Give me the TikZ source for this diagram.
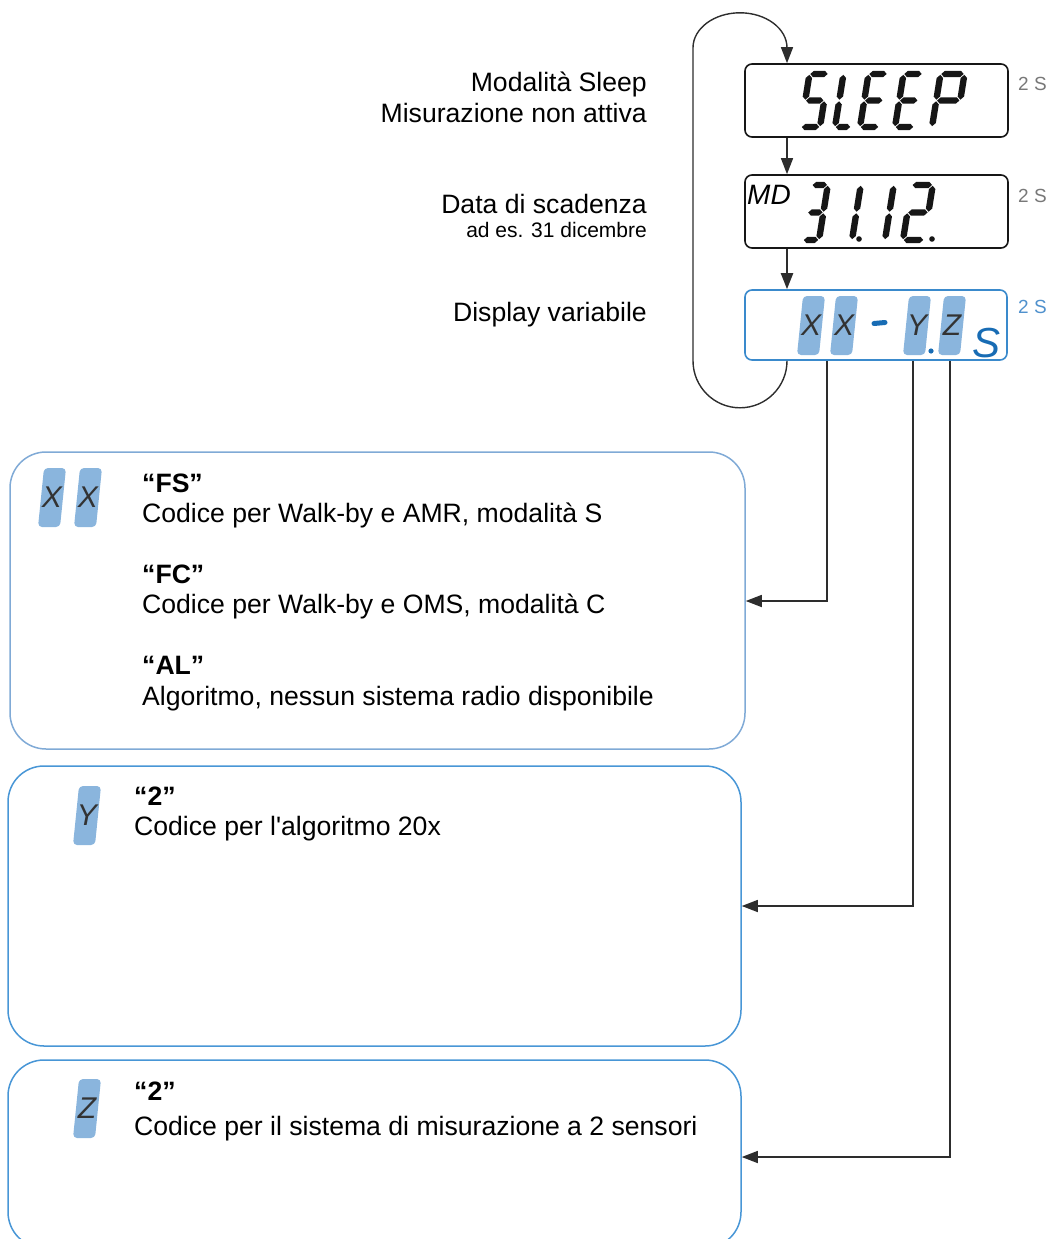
\documentclass[tikz,border=0pt]{standalone}
\usepackage{fontspec}
\setmainfont{Liberation Sans}
\usetikzlibrary{arrows.meta}

\definecolor{lcdink}{RGB}{22,22,22}
\definecolor{dispblue}{RGB}{58,138,204}
\definecolor{cellblue}{RGB}{138,181,221}
\definecolor{inkblue}{RGB}{24,108,180}
\definecolor{boxblueA}{RGB}{128,170,214}
\definecolor{boxblueB}{RGB}{72,150,214}
\definecolor{wire}{RGB}{45,45,45}
\definecolor{timegray}{RGB}{120,120,120}
\definecolor{timeblue}{RGB}{80,145,205}

% one tapered LCD segment, horizontal (#1 = y) or vertical (#1 = x, from #2 to #3)
\newcommand\lcdhseg[1]{\fill[lcdink] (0.8,#1) -- (4,#1-3.2) -- (\gw-4,#1-3.2) -- (\gw-0.8,#1) -- (\gw-4,#1+3.2) -- (4,#1+3.2) -- cycle;}
\newcommand\lcdvseg[3]{\fill[lcdink] (#1,#2+0.8) -- (#1+3.2,#2+4) -- (#1+3.2,#3-4) -- (#1,#3-0.8) -- (#1-3.2,#3-4) -- (#1-3.2,#2+4) -- cycle;}
\newcommand\lcdsega{\lcdhseg{-\gh}}
\newcommand\lcdsegg{\lcdhseg{-\gh/2}}
\newcommand\lcdsegd{\lcdhseg{0}}
\newcommand\lcdsegf{\lcdvseg{0}{-\gh}{-\gh/2}}
\newcommand\lcdsege{\lcdvseg{0}{-\gh/2}{0}}
\newcommand\lcdsegb{\lcdvseg{\gw}{-\gh}{-\gh/2}}
\newcommand\lcdsegc{\lcdvseg{\gw}{-\gh/2}{0}}
% seven-segment glyph: lower-left corner (#1,#2), width #3, height #4, segments #5
\newcommand\lcdglyph[5]{%
  \begin{scope}[shift={(#1,#2)}, xslant=0.16]
    \def\gw{#3}\def\gh{#4}%
    \foreach \sg in {#5}{\csname lcdseg\sg\endcsname}
  \end{scope}}
% shaded character cell with its letter: name #1, lower-left (#2,#3), letter #4
\newcommand\lcdcell[4]{%
  \fill[cellblue, rounded corners=4pt] (#2,#3) -- ++(22,0) -- ++(6,-59) -- ++(-22,0) -- cycle;
  \node[cellchar] (#1) at (#2+14,#3-29.5) {#4};}

\begin{document}
\begin{tikzpicture}[x=1pt, y=-1pt,
  lbl/.style={font=\fontsize{26.6}{30}\selectfont, inner sep=0pt},
  lblsmall/.style={font=\fontsize{21}{24}\selectfont, inner sep=0pt},
  head/.style={font=\fontsize{26.6}{30}\selectfont\bfseries, inner sep=0pt, anchor=base west},
  body/.style={lbl, anchor=base west},
  timelbl/.style={font=\fontsize{19}{20}\selectfont, inner sep=0pt, anchor=base west, text=timegray},
  cellchar/.style={font=\fontsize{30}{30}\selectfont\itshape, inner sep=0pt, text=black!80},
  disp/.style={draw=lcdink, rounded corners=7pt, line width=1.6pt, minimum width=263pt, minimum height=73pt, inner sep=0pt},
  infobox/.style={rounded corners=36pt, line width=1.5pt, inner sep=0pt},
  conn/.style={draw=wire, line width=1.4pt},
  tip/.style={-{Triangle[length=16pt, width=12pt]}}
]
\useasboundingbox (0,0) rectangle (1050,1239);
\clip (0,0) rectangle (1050,1239);

% ---- display boxes ----
\node[disp] (sleep) at (876.5,100.5) {};
\node[disp] (md) at (876.5,211.5) {};
\node[disp, draw=dispblue, minimum height=70pt, minimum width=262pt] (var) at (876,325) {};

% SLEEP
\lcdglyph{801}{127}{19}{53}{a,f,g,c,d}
\lcdglyph{835}{127}{16}{53}{f,e,d}
\lcdglyph{860}{127}{19}{53}{a,f,g,e,d}
\lcdglyph{895}{127}{19}{53}{a,f,g,e,d}
\lcdglyph{932}{127}{24}{53}{a,b,f,g,e}

% MD 31.12.
\node[inner sep=0pt, anchor=base west, font=\fontsize{28}{28}\selectfont\itshape] (mdtxt) at (747,204) {MD};
\lcdglyph{803}{240}{16}{55}{a,b,g,c,d}
\lcdglyph{836}{240}{16}{55}{b,c}
\fill[lcdink] (859,239) circle (2.8);
\lcdglyph{869}{240}{16}{55}{b,c}
\lcdglyph{903}{240}{21}{55}{a,b,g,e,d}
\fill[lcdink] (932,239) circle (2.8);

% XX-Y.Z S
\lcdcell{vx1}{797}{355}{X}
\lcdcell{vx2}{830}{355}{X}
\lcdcell{vy}{903}{355}{Y}
\lcdcell{vz}{938}{355}{Z}
\draw[inkblue, line width=5pt, line cap=round] (874,323.5) -- (885,322.5);
\fill[inkblue] (931,351) circle (2.6);
\node[inner sep=0pt, anchor=base west, text=inkblue, font=\fontsize{42}{42}\selectfont\itshape] (vs) at (972,357) {S};

% durations
\node[timelbl] (t1) at (1018,90) {2 S};
\node[timelbl] (t2) at (1018,202) {2 S};
\node[timelbl, text=timeblue] (t3) at (1018,313) {2 S};

% ---- labels on the left ----
\node[lbl, anchor=base east] (l1) at (647,92) {Modalità Sleep};
\node[lbl, anchor=base east] (l2) at (647,122) {Misurazione non attiva};
\node[lbl, anchor=base east] (l3) at (647,213) {Data di scadenza};
\node[lblsmall, anchor=base east] (l4) at (647,237) {ad es. 31 dicembre};
\node[lbl, anchor=base east] (l5) at (647,321) {Display variabile};

% ---- detail boxes ----
\node[infobox, draw=boxblueA, minimum width=735pt, minimum height=297pt] (box1) at (377.5,600.5) {};
\node[infobox, draw=boxblueB, minimum width=733pt, minimum height=280pt] (box2) at (374.5,906) {};
\node[infobox, draw=boxblueB, minimum width=733pt, minimum height=188pt] (box3) at (374.5,1154) {};

\lcdcell{bx1}{38}{527}{X}
\lcdcell{bx2}{74}{527}{X}
\node[head] (h1) at (142,492.5) {“FS”};
\node[body] (b1) at (142,522.5) {Codice per Walk-by e AMR, modalità S};
\node[head] (h2) at (142,583.5) {“FC”};
\node[body] (b2) at (142,613.5) {Codice per Walk-by e OMS, modalità C};
\node[head] (h3) at (142,674.5) {“AL”};
\node[body] (b3) at (142,705.5) {Algoritmo, nessun sistema radio disponibile};

\lcdcell{by}{73}{845}{Y}
\node[head] (h4) at (134,805.5) {“2”};
\node[body] (b4) at (134,835.5) {Codice per l{\addfontfeature{Ligatures=TeXOff}'}algoritmo 20x};

\lcdcell{bz}{73}{1138}{Z}
\node[head] (h5) at (134,1100.5) {“2”};
\node[body] (b5) at (134,1135.5) {Codice per il sistema di misurazione a 2 sensori};

% ---- connectors ----
\coordinate (lp) at (787,47);
\coordinate (p1) at (827,601);
\coordinate (p2) at (913,906);
\coordinate (p3) at (950,1157);

\draw[conn, tip] (var.south -| lp) arc[start angle=0, end angle=-180, radius=47pt]
  -- ++(0,-313) arc[start angle=180, end angle=0, x radius=47pt, y radius=35pt]
  -- (sleep.north -| lp);
\draw[conn, tip] (sleep.south -| lp) -- (md.north -| lp);
\draw[conn, tip, line width=2.2pt] (md.south -| lp) -- (var.north -| lp);

\draw[conn, tip] (var.south -| p1) |- (box1.east |- p1);
\draw[conn, tip] (var.south -| p2) |- (box2.east |- p2);
\draw[conn, tip] (var.south -| p3) |- (box3.east |- p3);
\end{tikzpicture}
\end{document}
